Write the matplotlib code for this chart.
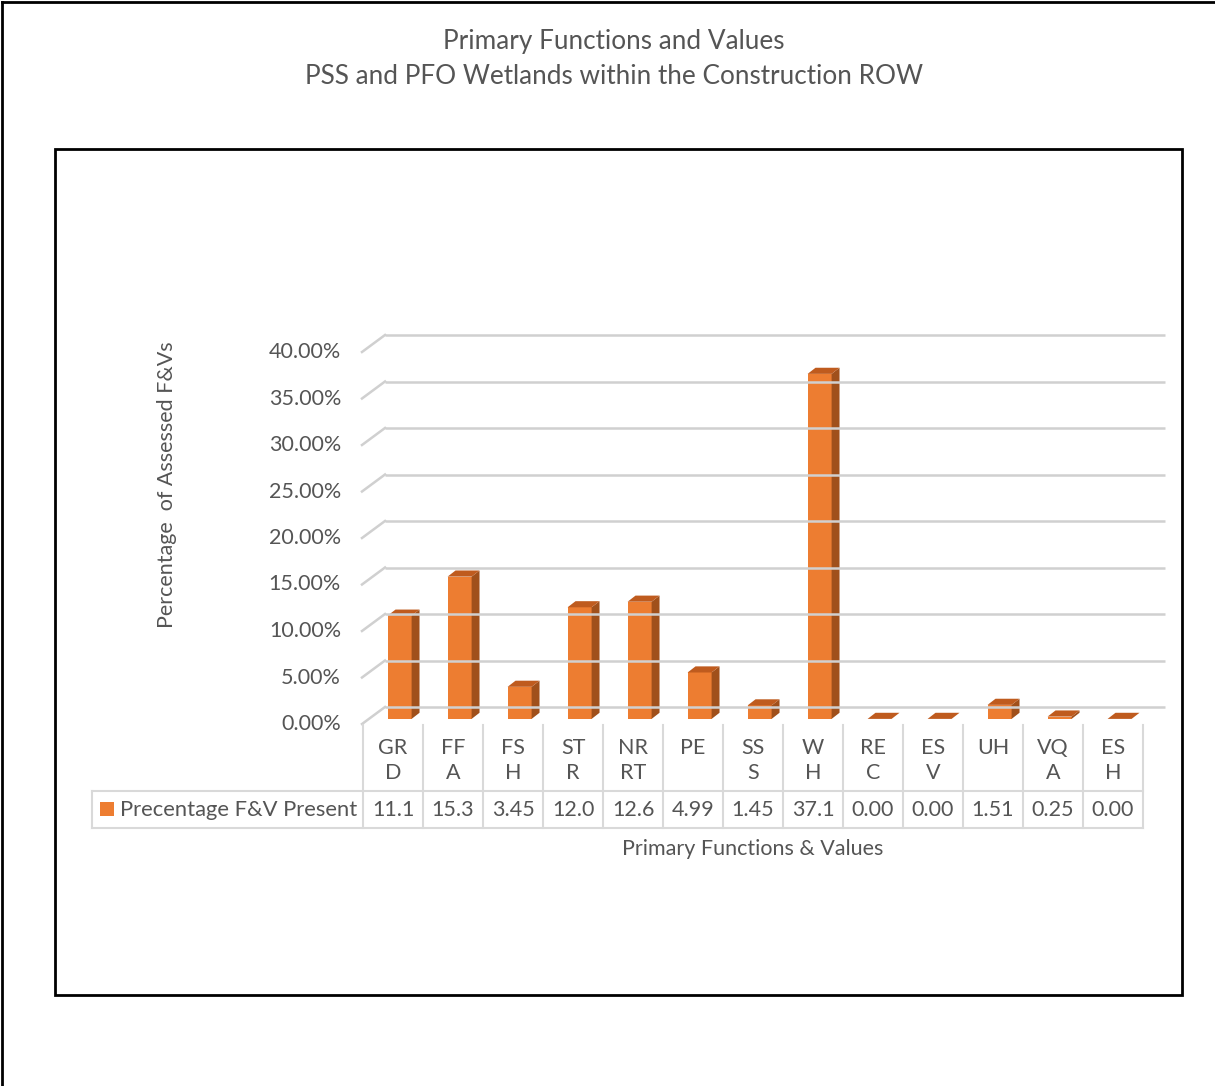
import numpy as np
import matplotlib.pyplot as plt
from matplotlib import transforms
from matplotlib.patches import Polygon, Rectangle
from matplotlib.lines import Line2D

# Данные
categories = ['GR\nD', 'FF\nA', 'FS\nH', 'ST\nR', 'NR\nRT', 'PE', 'SS\nS', 'W\nH',
              'RE\nC', 'ES\nV', 'UH', 'VQ\nA', 'ES\nH']
values = [11.1, 15.3, 3.45, 12.0, 12.6, 4.99, 1.45, 37.1, 0.0, 0.0, 1.51, 0.25, 0.0]
value_labels = ['11.1', '15.3', '3.45', '12.0', '12.6', '4.99', '1.45', '37.1',
                '0.00', '0.00', '1.51', '0.25', '0.00']
yticks = [0, 5, 10, 15, 20, 25, 30, 35, 40]
ytick_labels = ['0.00%', '5.00%', '10.00%', '15.00%', '20.00%', '25.00%',
                '30.00%', '35.00%', '40.00%']
series_name = 'Precentage F&V Present'

plt.rcParams['font.family'] = ['Lato', 'DejaVu Sans']
txt = '#555555'
front_c, side_c, top_c = '#ED7D31', '#A0501B', '#BF5B1E'
grid_c = '#D0D0D0'
fs = 15.5

W, H = 1215, 1086
fig = plt.figure(figsize=(W / 100, H / 100), dpi=100)

def fx(px):
    return px / W

def fy(py):
    return 1 - py / H

# Оси: передняя плоскость
ax = fig.add_axes([fx(363), fy(724), fx(1143) - fx(363), fy(352) - fy(724)])
n = len(values)
ax.set_xlim(-0.5, n - 0.5)
ax.set_ylim(0, 40)
ax.axis('off')

# глубина (пиксели) до задней стенки
DX, DY = 22, 17

def proj(x, y, t):
    p = ax.transData.transform((x, y))
    return (p[0] + DX * t, p[1] + DY * t)

ident = transforms.IdentityTransform()

# Сетка на задней стенке и диагонали слева
back = transforms.offset_copy(ax.transData, fig=fig, x=DX, y=DY, units='dots')
ax.hlines(yticks, -0.5, n - 0.5, colors=grid_c, lw=1.8, transform=back, clip_on=False)
for y in yticks:
    p0, p1 = proj(-0.5, y, 0), proj(-0.5, y, 1)
    ax.add_line(Line2D([p0[0] - 1, p1[0]], [p0[1], p1[1]], color=grid_c, lw=1.8,
                       transform=ident, clip_on=False))

# Подписи оси Y
ylab_tr = transforms.offset_copy(ax.transData, fig=fig, x=-22, y=0, units='dots')
for y, lab in zip(yticks, ytick_labels):
    ax.text(-0.5, y, lab, transform=ylab_tr, ha='right', va='center', fontsize=fs, color=txt)

# Столбцы (псевдо-3D)
t0, t1 = 0.3, 0.66
bw = 0.4
for i, v in enumerate(values):
    xl, xr = i - bw / 2, i + bw / 2
    if v > 0:
        front = [proj(xl, 0, t0), proj(xr, 0, t0), proj(xr, v, t0), proj(xl, v, t0)]
        ax.add_patch(Polygon(front, closed=True, fc=front_c, ec='none', transform=ident, clip_on=False))
        side = [proj(xr, 0, t0), proj(xr, 0, t1), proj(xr, v, t1), proj(xr, v, t0)]
        ax.add_patch(Polygon(side, closed=True, fc=side_c, ec='none', transform=ident, clip_on=False))
    top = [proj(xl, v, t0), proj(xr, v, t0), proj(xr, v, t1), proj(xl, v, t1)]
    ax.add_patch(Polygon(top, closed=True, fc=top_c, ec='none', transform=ident, clip_on=False))

# Таблица данных
tab_c = '#D9D9D9'
xedges = [ax.transData.transform((e, 0))[0] for e in np.arange(n + 1) - 0.5]
for xe in xedges:
    fig.add_artist(Line2D([fx(xe), fx(xe)], [fy(725), fy(828)], color=tab_c, lw=1.5))
for yy in (791, 828):
    fig.add_artist(Line2D([fx(92), fx(xedges[-1])], [fy(yy), fy(yy)], color=tab_c, lw=1.5))
fig.add_artist(Line2D([fx(92), fx(92)], [fy(791), fy(828)], color=tab_c, lw=1.5))

xy_fig = transforms.blended_transform_factory(ax.transData, fig.transFigure)
for i, (cat, lab) in enumerate(zip(categories, value_labels)):
    ax.text(i, fy(738), cat, transform=xy_fig, ha='center', va='top', fontsize=fs,
            color=txt, linespacing=1.3)
    ax.text(i, fy(810), lab, transform=xy_fig, ha='center', va='center', fontsize=fs, color=txt)

fig.add_artist(Rectangle((fx(100), fy(816)), fx(14), 14 / H, fc=front_c, ec='none'))
fig.text(fx(120), fy(810), series_name, ha='left', va='center', fontsize=15.8, color=txt)

ax.text(6, fy(849), 'Primary Functions & Values', transform=xy_fig, ha='center', va='center',
        fontsize=fs, color=txt)
fig.text(fx(167), fy(485), 'Percentage  of Assessed F&Vs', rotation=90, ha='center', va='center',
         fontsize=fs, color=txt)

# Заголовок
fig.text(fx(614), fy(42), 'Primary Functions and Values', ha='center', va='center',
         fontsize=18.8, color=txt)
fig.text(fx(614), fy(77), 'PSS and PFO Wetlands within the Construction ROW', ha='center',
         va='center', fontsize=18.8, color=txt)

# Рамки
fig.add_artist(Rectangle((fx(55), fy(995)), fx(1182) - fx(55), fy(149) - fy(995), fill=False,
                         ec='black', lw=2))
fig.add_artist(Line2D([fx(2), 1], [fy(2), fy(2)], color='black', lw=2))
fig.add_artist(Line2D([fx(2), fx(2)], [0, fy(2)], color='black', lw=2))

fig.savefig('out.png', dpi=100)
